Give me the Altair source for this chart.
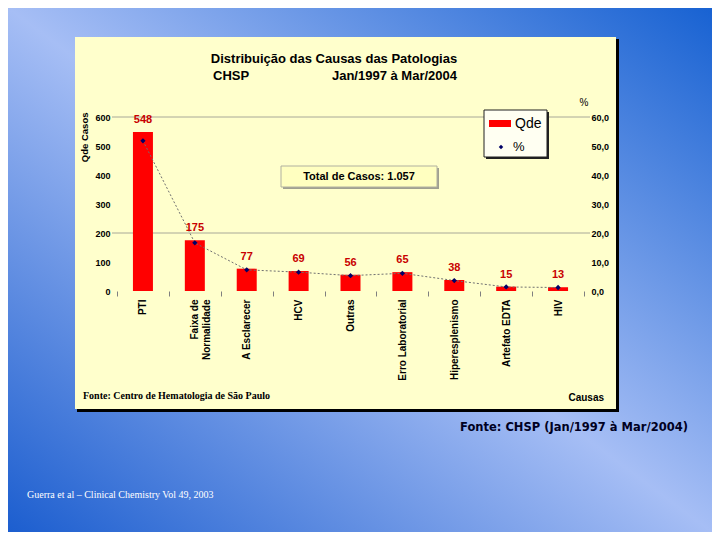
import altair as alt
import pandas as pd

CATEGORIES = ["PTI", "Faixa de Normalidade", "A Esclarecer", "HCV", "Outras",
              "Erro Laboratorial", "Hiperesplenismo", "Artefato EDTA", "HIV"]
CASES = [548, 175, 77, 69, 56, 65, 38, 15, 13]
PERCENT = [51.8, 16.6, 7.3, 6.5, 5.3, 6.1, 3.6, 1.4, 1.2]
LEFT_TICKS = [0, 100, 200, 300, 400, 500, 600]
RIGHT_TICKS = [0, 10, 20, 30, 40, 50, 60]
GRID_VALUES = [200, 600]

TITLE_1 = "Distribuição das Causas das Patologias"
TITLE_2A = "CHSP"
TITLE_2B = "Jan/1997 à Mar/2004"
TOTAL_TEXT = "Total de Casos: 1.057"
SOURCE_IN = "Fonte: Centro de Hematologia de São Paulo"
CAUSAS = "Causas"
SOURCE_OUT = "Fonte: CHSP (Jan/1997 à Mar/2004)"
CITATION = "Guerra et al – Clinical Chemistry Vol 49, 2003"

df = pd.DataFrame({"causa": CATEGORIES, "casos": CASES, "pct": PERCENT})
one = pd.DataFrame({"k": [0]})
grid_df = pd.DataFrame({"v": GRID_VALUES})

W, H = 467, 174
SANS = "Liberation Sans"
SERIF = "Liberation Serif"

x_enc = alt.X(
    "causa:N", sort=CATEGORIES,
    scale=alt.Scale(paddingInner=0, paddingOuter=0),
    axis=alt.Axis(
        title=None, labelAngle=270, labelAlign="right", labelBaseline="middle",
        labelFont=SANS, labelFontSize=10, labelFontWeight="bold", labelColor="black",
        labelPadding=3, labelOverlap=False, labelLineHeight=12,
        labelExpr="datum.label == 'Faixa de Normalidade' ? ['Faixa de', 'Normalidade'] : datum.label",
        ticks=True, tickColor="#808080", tickSize=5, tickBand="extent",
        domain=False, grid=False, zindex=1,
    ),
)

count_scale = alt.Scale(domain=[0, 600], nice=False)
pct_scale = alt.Scale(domain=[0, 60], nice=False)

def rect(x, x2, y, y2, **kw):
    return alt.Chart(one).mark_rect(**kw).encode(
        x=alt.value(x), x2=alt.value(x2), y=alt.value(y), y2=alt.value(y2))

def text(s, x, y, **kw):
    return alt.Chart(one).mark_text(text=s, **kw).encode(x=alt.value(x), y=alt.value(y))

bg = rect(-109, 595, -109, 415, fill=alt.LinearGradient(
    gradient="linear",
    stops=[alt.GradientStop(color="#1862d2", offset=0),
           alt.GradientStop(color="#a6bef5", offset=0.5),
           alt.GradientStop(color="#1c5ecf", offset=1)],
    x1=1, y1=0, x2=0, y2=1), strokeWidth=0)

panel_shadow = rect(-40, 502, -78, 295, fill="#000000", strokeWidth=0)
panel = rect(-42, 499, -80, 292, fill="#FFFFCC", strokeWidth=0)

grid = alt.Chart(grid_df).mark_rule(color="#a8a898", strokeWidth=1).encode(
    y=alt.Y("v:Q", scale=count_scale, axis=None),
    x=alt.value(-5), x2=alt.value(473))

bars = alt.Chart(df).mark_bar(color="#FF0000", size=20).encode(
    x=x_enc,
    y=alt.Y("casos:Q", scale=count_scale, axis=alt.Axis(
        orient="left", values=LEFT_TICKS, format="d",
        labelFont=SANS, labelFontSize=9, labelFontWeight="bold", labelColor="black",
        labelPadding=7, ticks=False, domain=False, grid=False, zindex=1,
        title="Qde Casos", titleFont=SANS, titleFontSize=9.5, titleFontWeight="bold",
        titleColor="black", titleAngle=270, titleX=-33, titleY=-5,
        titleAlign="right", titleBaseline="middle")))

labels = alt.Chart(df).mark_text(
    dy=-7, baseline="bottom", font=SANS, fontSize=11, fontWeight="bold", color="#C80000"
).encode(x=x_enc, y=alt.Y("casos:Q", scale=count_scale, axis=None), text="casos:Q")

line = alt.Chart(df).mark_line(color="#707070", strokeWidth=1, strokeDash=[2, 2]).encode(
    x=x_enc,
    y=alt.Y("pct:Q", scale=pct_scale, axis=alt.Axis(
        orient="right", values=RIGHT_TICKS,
        labelExpr="replace(format(datum.value, '.1f'), '.', ',')",
        labelFont=SANS, labelFontSize=9, labelFontWeight="bold", labelColor="black",
        labelPadding=7, ticks=False, domain=False, grid=False, title=None, zindex=1)))

points = alt.Chart(df).mark_point(shape="diamond", filled=True, size=28, color="#000066", opacity=1).encode(
    x=x_enc, y=alt.Y("pct:Q", scale=pct_scale, axis=None))

total_shadow = rect(166, 322, 51, 72, fill="#A0A090", strokeWidth=0)
total_box = rect(164, 320, 49, 70, fill="#FFFFC0", stroke="#B0B0A0", strokeWidth=1)
total_txt = text(TOTAL_TEXT, 242, 60, font=SANS, fontSize=11, fontWeight="bold", color="black",
                 align="center", baseline="middle")

leg_shadow = rect(369, 432, -5, 42, fill="#202020", strokeWidth=0)
leg_box = rect(367, 430, -7, 40, fill="#FFFFF2", stroke="#202020", strokeWidth=1)
leg_swatch = rect(372, 394, 3, 10, fill="#FF0000", strokeWidth=0)
leg_qde = text("Qde", 398, 7, font=SANS, fontSize=14, color="black", align="left", baseline="middle")
leg_diamond = alt.Chart(one).mark_point(shape="diamond", filled=True, size=20, color="#000066", opacity=1).encode(
    x=alt.value(384), y=alt.value(30))
leg_pct = text("%", 396, 30, font=SANS, fontSize=13, color="black", align="left", baseline="middle")

t1 = text(TITLE_1, 217, -58, font=SANS, fontSize=13, fontWeight="bold", color="black",
          align="center", baseline="middle")
t2a = text(TITLE_2A, 96, -41, font=SANS, fontSize=13, fontWeight="bold", color="black",
           align="left", baseline="middle")
t2b = text(TITLE_2B, 340, -41, font=SANS, fontSize=13, fontWeight="bold", color="black",
           align="right", baseline="middle")
pct_title = text("%", 467, -14, font=SANS, fontSize=10, color="black", align="center", baseline="middle")
causas = text(CAUSAS, 487, 281, font=SANS, fontSize=10, fontWeight="bold", color="black",
              align="right", baseline="middle")
src_in = text(SOURCE_IN, -34, 279, font=SERIF, fontSize=10, fontWeight="bold", color="black",
              align="left", baseline="middle")
src_out = text(SOURCE_OUT, 343, 311, font="DejaVu Sans", fontSize=11.5, fontWeight="bold",
               color="#000022", align="left", baseline="middle")
cite = text(CITATION, -90, 378, font=SERIF, fontSize=10, color="white", align="left", baseline="middle")

chart = alt.layer(
    bg, panel_shadow, panel, grid, bars, line, points, labels,
    total_shadow, total_box, total_txt,
    leg_shadow, leg_box, leg_swatch, leg_qde, leg_diamond, leg_pct,
    t1, t2a, t2b, pct_title, causas, src_in, src_out, cite,
).resolve_scale(y="independent").properties(
    width=W, height=H, padding=0
).configure_view(strokeWidth=0).configure(font=SANS)

chart.save("out.html", embed_options={"renderer": "svg", "actions": False})
